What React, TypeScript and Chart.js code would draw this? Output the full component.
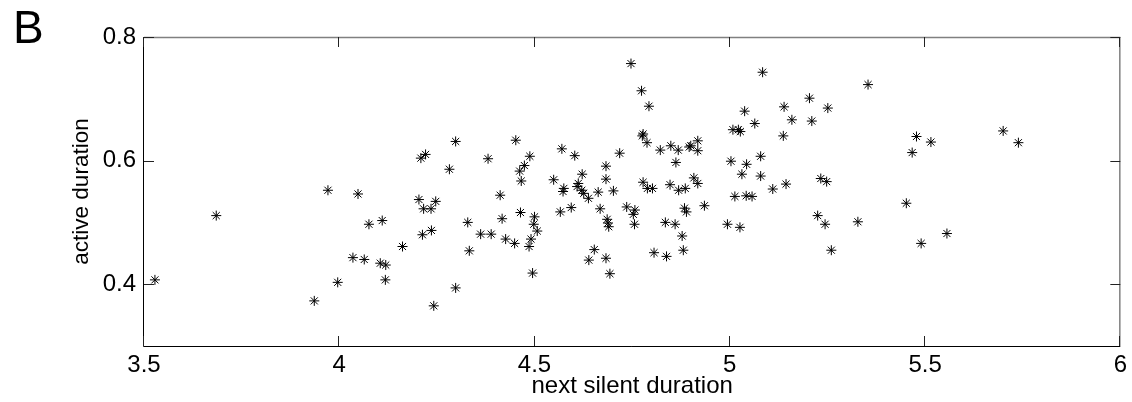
import React, { useEffect, useRef } from "react";
import { Chart, registerables } from "chart.js";

Chart.register(...registerables);

const xValues = [
  3.528, 3.685, 4.298, 4.221, 4.209, 4.282, 3.971, 4.048, 4.204, 4.247,
  4.216, 4.235, 4.329, 4.110, 4.076, 4.236, 4.213, 4.162, 4.333, 4.035,
  4.064, 4.105, 4.119, 4.118, 3.996, 4.298, 3.936, 4.242, 4.747, 4.452,
  4.381, 4.488, 4.474, 4.462, 4.466, 4.412, 4.464, 4.417, 4.500, 4.498,
  4.507, 4.362, 4.389, 4.426, 4.449, 4.491, 4.486, 4.495, 4.570, 4.603,
  4.718, 4.683, 4.622, 4.683, 4.549, 4.575, 4.573, 4.612, 4.609, 4.621,
  4.626, 4.638, 4.663, 4.702, 4.736, 4.668, 4.566, 4.594, 4.686, 4.688,
  4.690, 4.653, 4.639, 4.683, 4.693, 5.084, 4.774, 4.793, 5.139, 5.038,
  5.064, 5.008, 5.022, 5.027, 5.137, 4.778, 4.776, 4.788, 4.918, 4.900,
  4.896, 4.849, 4.868, 4.822, 4.918, 4.862, 5.079, 5.003, 5.043, 5.031,
  5.079, 4.908, 4.918, 4.778, 4.789, 4.802, 4.847, 4.869, 4.886, 5.110,
  5.144, 5.013, 5.042, 5.057, 4.935, 4.757, 4.753, 4.884, 4.889, 4.756,
  4.835, 4.860, 4.994, 5.026, 4.878, 4.881, 4.806, 4.838, 5.354, 5.204,
  5.251, 5.159, 5.210, 5.478, 5.515, 5.467, 5.233, 5.248, 5.452, 5.225,
  5.244, 5.328, 5.556, 5.490, 5.260, 5.700, 5.739,
];

const yValues = [
  0.407, 0.511, 0.631, 0.610, 0.604, 0.586, 0.552, 0.546, 0.537, 0.534,
  0.522, 0.522, 0.500, 0.503, 0.497, 0.487, 0.480, 0.461, 0.454, 0.443,
  0.440, 0.434, 0.431, 0.407, 0.403, 0.394, 0.373, 0.365, 0.757, 0.633,
  0.603, 0.607, 0.592, 0.583, 0.567, 0.544, 0.516, 0.506, 0.509, 0.497,
  0.486, 0.481, 0.481, 0.473, 0.466, 0.473, 0.461, 0.418, 0.619, 0.608,
  0.612, 0.591, 0.578, 0.570, 0.569, 0.555, 0.550, 0.563, 0.558, 0.552,
  0.547, 0.539, 0.549, 0.551, 0.525, 0.522, 0.517, 0.524, 0.505, 0.499,
  0.493, 0.456, 0.439, 0.442, 0.417, 0.743, 0.713, 0.688, 0.687, 0.680,
  0.660, 0.650, 0.650, 0.647, 0.640, 0.643, 0.640, 0.629, 0.632, 0.624,
  0.622, 0.624, 0.617, 0.617, 0.616, 0.597, 0.607, 0.599, 0.594, 0.578,
  0.575, 0.572, 0.563, 0.565, 0.555, 0.555, 0.561, 0.552, 0.555, 0.554,
  0.562, 0.542, 0.543, 0.542, 0.527, 0.520, 0.513, 0.523, 0.517, 0.497,
  0.500, 0.497, 0.497, 0.492, 0.478, 0.455, 0.451, 0.445, 0.723, 0.701,
  0.685, 0.666, 0.664, 0.639, 0.630, 0.613, 0.571, 0.566, 0.531, 0.511,
  0.497, 0.501, 0.482, 0.466, 0.455, 0.648, 0.629,
];

const xTicks = [3.5, 4, 4.5, 5, 5.5, 6];
const xTickLabels = ["3.5", "4", "4.5", "5", "5.5", "6"];
const yTicks = [0.4, 0.6, 0.8];
const yTickLabels = ["0.4", "0.6", "0.8"];

const FONT = "'Liberation Sans', Arial, Helvetica, sans-serif";

const boxPlugin = {
  id: "matlabBox",
  afterDraw(chart: any) {
    const { ctx, chartArea } = chart;
    const { left, right, top, bottom } = chartArea;
    const xs = chart.scales.x;
    const ys = chart.scales.y;
    const tl = 10;
    ctx.save();
    ctx.strokeStyle = "#808080";
    ctx.lineWidth = 1.5;
    ctx.beginPath();
    ctx.moveTo(left, top + 0.5);
    ctx.lineTo(right, top + 0.5);
    ctx.moveTo(right - 0.5, top);
    ctx.lineTo(right - 0.5, bottom);
    ctx.stroke();
    ctx.strokeStyle = "#000";
    ctx.lineWidth = 1;
    ctx.beginPath();
    ctx.moveTo(left - 0.5, top);
    ctx.lineTo(left - 0.5, bottom + 0.5);
    ctx.lineTo(right, bottom + 0.5);
    ctx.stroke();
    ctx.strokeStyle = "#222";
    ctx.beginPath();
    xTicks.forEach((v) => {
      const px = Math.round(xs.getPixelForValue(v)) - 0.5;
      ctx.moveTo(px, bottom);
      ctx.lineTo(px, bottom - tl);
      ctx.moveTo(px, top);
      ctx.lineTo(px, top + tl);
    });
    yTicks.forEach((v) => {
      const py = Math.round(ys.getPixelForValue(v)) + 0.5;
      ctx.moveTo(left, py);
      ctx.lineTo(left + tl, py);
      ctx.moveTo(right, py);
      ctx.lineTo(right - tl, py);
    });
    ctx.stroke();
    ctx.restore();
  },
};

export default function App() {
  const canvasRef = useRef<HTMLCanvasElement | null>(null);

  useEffect(() => {
    const canvas = canvasRef.current;
    if (!canvas) return;
    const points = xValues.map((x, i) => ({ x, y: yValues[i] }));
    const chart = new Chart(canvas, {
      type: "scatter",
      data: {
        datasets: [
          {
            data: points,
            pointStyle: "star",
            radius: 5,
            borderColor: "#000",
            backgroundColor: "#000",
            borderWidth: 1,
          },
        ],
      },
      options: {
        responsive: false,
        animation: false,
        devicePixelRatio: 1,
        layout: { padding: { left: 0, right: 8, top: 37, bottom: 0 } },
        plugins: {
          legend: { display: false },
          tooltip: { enabled: false },
        },
        scales: {
          x: {
            type: "linear",
            min: 3.5,
            max: 6,
            afterBuildTicks: (s: any) => {
              s.ticks = xTicks.map((v) => ({ value: v }));
            },
            afterFit: (s: any) => {
              s.height = 56;
            },
            ticks: {
              callback: (_v: any, i: number) => xTickLabels[i],
              color: "#000",
              font: { family: FONT, size: 24 },
              padding: 5,
              maxRotation: 0,
              autoSkip: false,
            },
            grid: { display: false, drawTicks: false },
            border: { display: false },
            title: {
              display: true,
              text: "next silent duration",
              color: "#000",
              font: { family: FONT, size: 24 },
              padding: { top: 0, bottom: 1.5 },
            },
          },
          y: {
            type: "linear",
            min: 0.3,
            max: 0.8,
            afterBuildTicks: (s: any) => {
              s.ticks = yTicks.map((v) => ({ value: v }));
            },
            afterFit: (s: any) => {
              s.width = 144;
            },
            ticks: {
              callback: (_v: any, i: number) => yTickLabels[i],
              color: "#000",
              font: { family: FONT, size: 24 },
              padding: 8,
              autoSkip: false,
            },
            grid: { display: false, drawTicks: false },
            border: { display: false },
            title: {
              display: true,
              text: "active duration",
              color: "#000",
              font: { family: FONT, size: 22.5 },
              padding: { top: 68.5, bottom: 0 },
            },
          },
        },
      },
      plugins: [boxPlugin],
    } as any);
    return () => chart.destroy();
  }, []);

  return (
    <div
      style={{
        position: "absolute",
        left: 0,
        top: 0,
        width: 1132,
        height: 402,
        background: "#fff",
      }}
    >
      <div
        style={{
          position: "absolute",
          left: 13,
          top: 4,
          fontFamily: FONT,
          fontSize: 46,
          lineHeight: 1,
          color: "#000",
        }}
      >
        B
      </div>
      <canvas ref={canvasRef} width={1132} height={402} style={{ display: "block" }} />
    </div>
  );
}
